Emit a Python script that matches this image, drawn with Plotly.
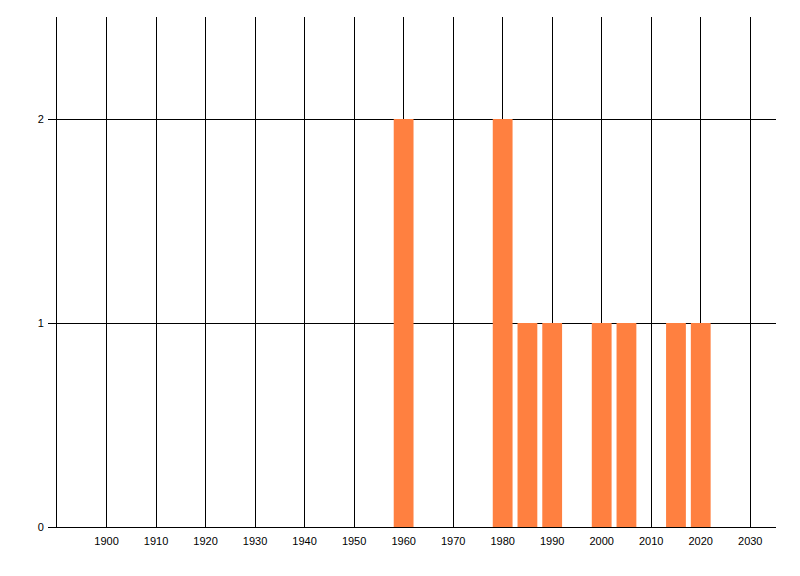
import plotly.graph_objects as go

years = [1960, 1980, 1985, 1990, 2000, 2005, 2015, 2020]
counts = [2, 2, 1, 1, 1, 1, 1, 1]
x_ticks = list(range(1900, 2031, 10))
y_ticks = [0, 1, 2]

fig = go.Figure(go.Bar(x=years, y=counts, width=4, marker=dict(color="#FF8040", line=dict(width=0))))

font = dict(family="Liberation Sans, Arial, sans-serif", size=11, color="black")
fig.update_layout(
    width=792, height=568,
    margin=dict(l=49, r=24, t=9, b=49, autoexpand=False),
    paper_bgcolor="white", plot_bgcolor="white",
    showlegend=False, font=font,
    xaxis=dict(range=[1890, 2035.2], tickvals=x_ticks, ticktext=[str(v) for v in x_ticks],
               showgrid=True, gridcolor="black", gridwidth=1,
               showline=True, linecolor="black", linewidth=1,
               ticks="", zeroline=False, ticklabelstandoff=4, tickfont=font),
    yaxis=dict(range=[0, 2.5], tickvals=y_ticks, ticktext=[str(v) for v in y_ticks],
               showgrid=True, gridcolor="black", gridwidth=1,
               showline=True, linecolor="black", linewidth=1,
               ticks="outside", ticklen=8, tickcolor="black", tickwidth=1,
               zeroline=False, ticklabelstandoff=2, tickfont=font),
)
fig.write_html("out.html")
